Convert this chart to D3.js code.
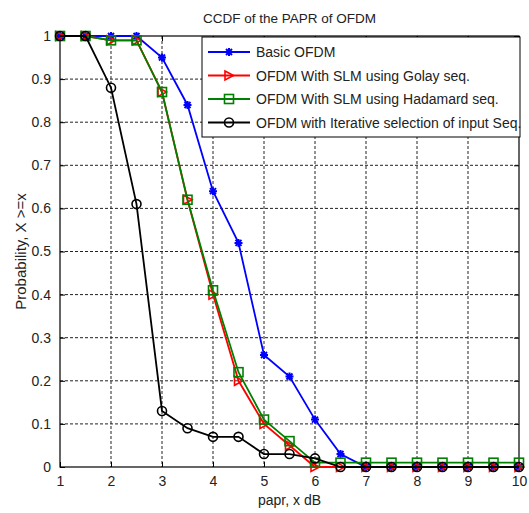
<!DOCTYPE html>
<html lang="en">
<head>
	<meta charset="UTF-8">
	<title>CCDF of the PAPR of OFDM</title>
	<style>
		body{margin:0;background:#fff;}
		svg{font-family:"Liberation Sans", Arial, sans-serif;}
		.grid line{stroke:#222;stroke-dasharray:3,2;stroke-width:1;}
		.tick text{fill:#222;}
	</style>
</head>
<body>
<div id="chart"></div>
<script src="https://d3js.org/d3.v7.min.js"></script>
<script>
	var papr = [1, 1.5, 2, 2.5, 3, 3.5, 4, 4.5, 5, 5.5, 6, 6.5, 7, 7.5, 8, 8.5, 9, 9.5, 10];
	var basic     = [1, 1, 1, 1, 0.95, 0.84, 0.64, 0.52, 0.26, 0.21, 0.11, 0.03, 0, 0, 0, 0, 0, 0, 0];
	var golay     = [1, 1, 0.99, 0.99, 0.87, 0.62, 0.40, 0.20, 0.10, 0.05, 0, 0, 0, 0, 0, 0, 0, 0, 0];
	var hadamard  = [1, 1, 0.99, 0.99, 0.87, 0.62, 0.41, 0.22, 0.11, 0.06, 0.01, 0.01, 0.01, 0.01, 0.01, 0.01, 0.01, 0.01, 0.01];
	var iterative = [1, 1, 0.88, 0.61, 0.13, 0.09, 0.07, 0.07, 0.03, 0.03, 0.02, 0, 0, 0, 0, 0, 0, 0, 0];
	var xTicks = [1, 2, 3, 4, 5, 6, 7, 8, 9, 10];
	var yTicks = [0, 0.1, 0.2, 0.3, 0.4, 0.5, 0.6, 0.7, 0.8, 0.9, 1];

	var series = [
		{name:'Basic OFDM', values:basic, color:'#0000ff', marker:'star'},
		{name:'OFDM With SLM using Golay seq.', values:golay, color:'#ff0000', marker:'tri'},
		{name:'OFDM With SLM using Hadamard seq.', values:hadamard, color:'#008000', marker:'square'},
		{name:'OFDM with Iterative selection of input Seq.', values:iterative, color:'#000000', marker:'circle'}
	];

	var W = 529, H = 513;
	var pL = 60, pR = 519, pT = 36, pB = 467;

	var x = d3.scaleLinear().domain([1, 10]).range([pL, pR]);
	var y = d3.scaleLinear().domain([0, 1]).range([pB, pT]);

	var svg = d3.select('#chart').append('svg')
		.attr('width', W).attr('height', H);

	// grid
	var grid = svg.append('g').attr('class', 'grid');
	grid.selectAll('.gx').data(xTicks.slice(1, -1)).enter().append('line')
		.attr('x1', d => x(d)).attr('x2', d => x(d))
		.attr('y1', pT).attr('y2', pB);
	grid.selectAll('.gy').data(yTicks.slice(1, -1)).enter().append('line')
		.attr('x1', pL).attr('x2', pR)
		.attr('y1', d => y(d)).attr('y2', d => y(d));

	// axes, ticks inward on all sides
	function styleAxis(g){
		g.select('.domain').remove();
		g.selectAll('.tick line').attr('stroke', '#000');
		g.selectAll('.tick text').style('font-size', '14px');
	}
	svg.append('g').attr('transform', 'translate(0,' + pB + ')')
		.call(d3.axisBottom(x).tickValues(xTicks).tickFormat(d3.format('d')).tickSizeInner(-5).tickPadding(9))
		.call(styleAxis);
	svg.append('g').attr('transform', 'translate(' + pL + ',0)')
		.call(d3.axisLeft(y).tickValues(yTicks).tickFormat(d => d === 0 || d === 1 ? d : d3.format('.1f')(d)).tickSizeInner(-5).tickPadding(9))
		.call(styleAxis);
	svg.append('g').attr('transform', 'translate(0,' + pT + ')')
		.call(d3.axisTop(x).tickValues(xTicks).tickFormat('').tickSizeInner(-5))
		.call(styleAxis);
	svg.append('g').attr('transform', 'translate(' + pR + ',0)')
		.call(d3.axisRight(y).tickValues(yTicks).tickFormat('').tickSizeInner(-5))
		.call(styleAxis);

	svg.append('rect')
		.attr('x', pL).attr('y', pT)
		.attr('width', pR - pL).attr('height', pB - pT)
		.attr('fill', 'none').attr('stroke', '#000').attr('stroke-width', 1.2);

	function drawMarker(g, type, color){
		if(type === 'star'){
			g.append('path')
				.attr('d', 'M-4,0H4M0,-4V4M-3,-3L3,3M-3,3L3,-3')
				.attr('stroke', color).attr('stroke-width', 2).attr('fill', 'none');
		} else if(type === 'tri'){
			g.append('path')
				.attr('d', 'M-4,-4.5L4.5,0L-4,4.5Z')
				.attr('stroke', color).attr('stroke-width', 1.6).attr('fill', 'none');
		} else if(type === 'square'){
			g.append('rect')
				.attr('x', -4.5).attr('y', -4.5).attr('width', 9).attr('height', 9)
				.attr('stroke', color).attr('stroke-width', 1.6).attr('fill', 'none');
		} else {
			g.append('circle').attr('r', 4.5)
				.attr('stroke', color).attr('stroke-width', 1.6).attr('fill', 'none');
		}
	}

	var line = d3.line().x((d, i) => x(papr[i])).y(d => y(d));

	series.forEach(function(s){
		var g = svg.append('g');
		g.append('path')
			.attr('d', line(s.values))
			.attr('fill', 'none').attr('stroke', s.color).attr('stroke-width', 1.8);
		s.values.forEach(function(v, i){
			var m = g.append('g').attr('transform', 'translate(' + x(papr[i]) + ',' + y(v) + ')');
			drawMarker(m, s.marker, s.color);
		});
	});

	// legend
	var lg = svg.append('g').attr('transform', 'translate(202,37)');
	lg.append('rect').attr('width', 318).attr('height', 100)
		.attr('fill', '#fff').attr('stroke', '#000');
	series.forEach(function(s, i){
		var row = lg.append('g').attr('transform', 'translate(0,' + (15 + i * 23.5) + ')');
		row.append('line').attr('x1', 6).attr('x2', 48)
			.attr('stroke', s.color).attr('stroke-width', 1.8);
		drawMarker(row.append('g').attr('transform', 'translate(27,0)'), s.marker, s.color);
		row.append('text').attr('x', 54).attr('y', 5)
			.style('font-size', '14px').attr('fill', '#222')
			.text(s.name);
	});

	// title and labels
	svg.append('text').attr('x', (pL + pR) / 2).attr('y', 23)
		.attr('text-anchor', 'middle').style('font-size', '13.5px').attr('fill', '#222')
		.text('CCDF of the PAPR of OFDM');
	svg.append('text').attr('x', (pL + pR) / 2).attr('y', 505)
		.attr('text-anchor', 'middle').style('font-size', '14px').attr('fill', '#222')
		.text('papr, x dB');
	svg.append('text')
		.attr('transform', 'translate(26,' + (pT + pB) / 2 + ') rotate(-90)')
		.attr('text-anchor', 'middle').style('font-size', '15px').attr('fill', '#222')
		.text('Probability, X >=x');
</script>
</body>
</html>
